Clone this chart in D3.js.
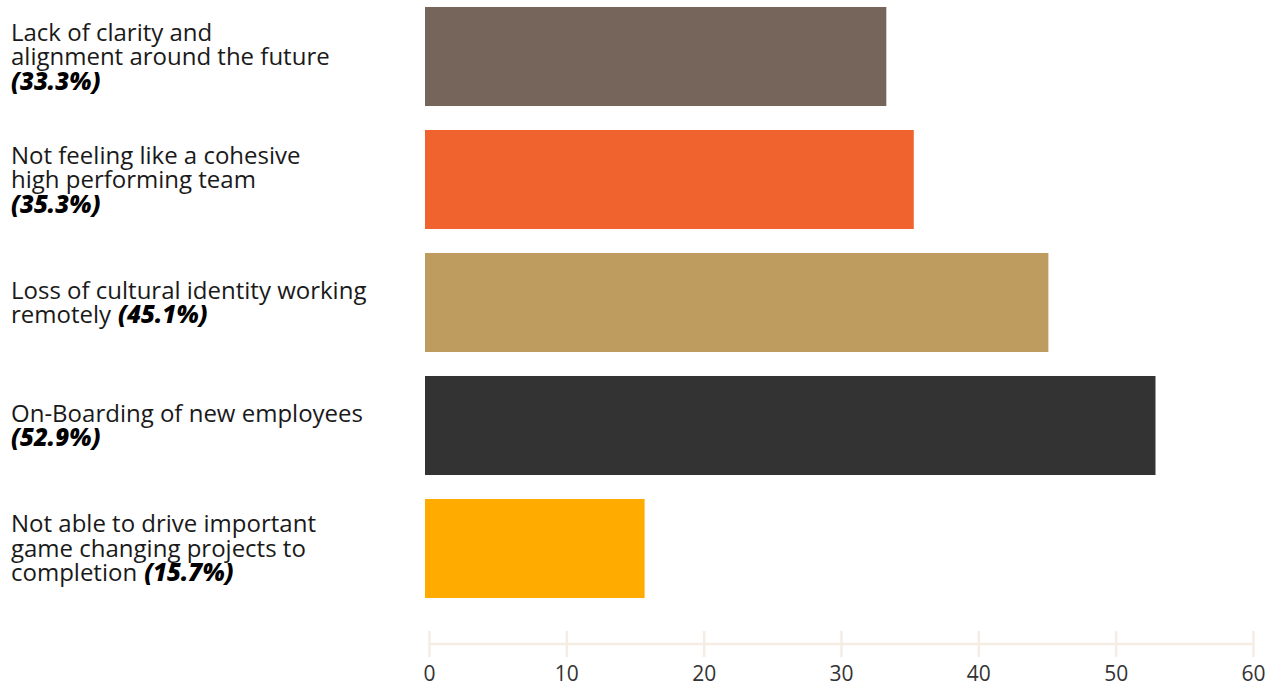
<!DOCTYPE html>
<html>
<head>
<meta charset="utf-8">
<script src="https://cdn.jsdelivr.net/npm/d3@7"></script>
<style>
  html, body { margin: 0; padding: 0; background: #ffffff; }
  svg { display: block; }
  .cat { font-family: "Open Sans", sans-serif; font-size: 24px; fill: #1a1a1a; }
  .pct { font-family: "Open Sans", sans-serif; font-weight: 800; font-style: italic; fill: #000; }
  .tick text { font-family: "Open Sans", sans-serif; font-size: 21px; fill: #333; }
</style>
</head>
<body>
<svg id="chart" width="1275" height="685"></svg>
<script>
// Survey answers: wrapped label lines, share of respondents (%), bar colours
const labelLines = [
  ["Lack of clarity and", "alignment around the future"],
  ["Not feeling like a cohesive", "high performing team"],
  ["Loss of cultural identity working", "remotely"],
  ["On-Boarding of new employees"],
  ["Not able to drive important", "game changing projects to", "completion"]
];
// whether the percentage starts its own line under the label
const pctOnNewLine = [true, true, false, true, false];
const values = [33.3, 35.3, 45.1, 52.9, 15.7];
const colors = ["#75655a", "#f0632f", "#be9b5f", "#333333", "#ffab00"];
const xTicks = [0, 10, 20, 30, 40, 50, 60];

const svg = d3.select("#chart");
const x = d3.scaleLinear().domain([0, 60]).range([429, 1253]);
const y = d3.scaleBand().domain(d3.range(values.length)).range([7, 598]).paddingInner(0.195).paddingOuter(0);

// Bars
svg.append("g").selectAll("rect").data(values).join("rect")
  .attr("x", x(0) - 4)
  .attr("y", (d, i) => y(i))
  .attr("width", d => x(d) - x(0) + 4)
  .attr("height", y.bandwidth())
  .attr("fill", (d, i) => colors[i]);

// Category labels with the percentage appended in bold italic
const lineH = 24.5;
const lab = svg.append("g");
values.forEach((v, i) => {
  const lines = labelLines[i];
  const pctText = "(" + v.toFixed(1) + "%)";
  const cy = y(i) + y.bandwidth() / 2;
  const own = pctOnNewLine[i];
  const n = lines.length + (own ? 1 : 0);
  const base = k => cy + 8.5 + (k - (n - 1) / 2) * lineH;
  const t = lab.append("text").attr("class", "cat").attr("x", 11);
  lines.forEach((ln, k) => {
    t.append("tspan").attr("x", 11).attr("y", base(k)).text(ln);
    if (k === lines.length - 1 && !own) {
      t.append("tspan").attr("class", "pct").attr("dx", 7).text(pctText);
    }
  });
  if (own) {
    t.append("tspan").attr("class", "pct").attr("x", 11).attr("y", base(n - 1)).text(pctText);
  }
});

// Bottom axis
const axis = d3.axisBottom(x).tickValues(xTicks).tickSize(13).tickSizeOuter(0).tickPadding(0);
const gA = svg.append("g").attr("transform", "translate(0,644)").call(axis);
gA.select(".domain").attr("stroke", "#f5ece4").attr("stroke-width", 2.5).attr("d", `M${x(0)},0H${x(60)}`);
gA.selectAll(".tick line").attr("stroke", "#f5ece4").attr("stroke-width", 2.5).attr("y1", -13).attr("y2", 13);
gA.selectAll(".tick text").attr("y", 37).attr("dy", 0);
</script>
</body>
</html>
